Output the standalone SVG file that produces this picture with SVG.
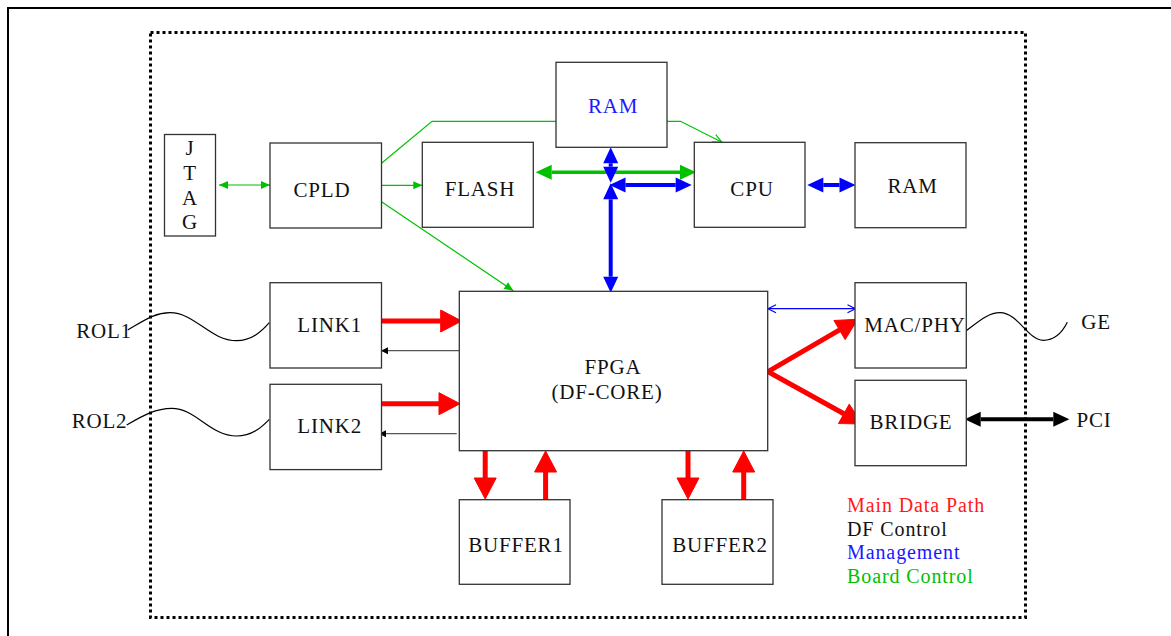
<svg xmlns="http://www.w3.org/2000/svg" width="1171" height="636" viewBox="0 0 1171 636">
<style>
.box{fill:#fff;stroke:#333;stroke-width:1.3}
.t{font-family:"Liberation Serif","Times New Roman",serif;font-size:21px;letter-spacing:0.8px;fill:#111;text-anchor:middle}
.lg{font-family:"Liberation Serif","Times New Roman",serif;font-size:20px;letter-spacing:0.9px}
.red{stroke:#ff0000;stroke-width:5;fill:none}
.gt{stroke:#00c000;stroke-width:3.5;fill:none}
.bt{stroke:#0000ff;stroke-width:4;fill:none}
.kt{stroke:#000;stroke-width:4;fill:none}
.g1{stroke:#00c000;stroke-width:1.2;fill:none}
.b1{stroke:#0000ff;stroke-width:1.2;fill:none}
.k1{stroke:#555;stroke-width:1.3;fill:none}
.wave{stroke:#000;stroke-width:1.2;fill:none}
</style>
<defs>
<marker id="hr" markerUnits="userSpaceOnUse" markerWidth="21" markerHeight="22" refX="0" refY="11" orient="auto-start-reverse" overflow="visible"><path d="M0,0 L21,11 L0,22 z" fill="#ff0000" stroke="#ff0000" stroke-width="1" stroke-linejoin="round"/></marker>
<marker id="hg" markerUnits="userSpaceOnUse" markerWidth="16" markerHeight="15" refX="0" refY="7.5" orient="auto-start-reverse" overflow="visible"><path d="M0,0 L16,7.5 L0,15 z" fill="#00c000"/></marker>
<marker id="hb" markerUnits="userSpaceOnUse" markerWidth="16" markerHeight="15" refX="0" refY="7.5" orient="auto-start-reverse" overflow="visible"><path d="M0,0 L16,7.5 L0,15 z" fill="#0000ff"/></marker>
<marker id="hk" markerUnits="userSpaceOnUse" markerWidth="16" markerHeight="15" refX="0" refY="7.5" orient="auto-start-reverse" overflow="visible"><path d="M0,0 L16,7.5 L0,15 z" fill="#000"/></marker>
<marker id="sg" markerUnits="userSpaceOnUse" markerWidth="9" markerHeight="8" refX="9" refY="4" orient="auto-start-reverse" overflow="visible"><path d="M0,0 L9,4 L0,8 z" fill="#00c000"/></marker>
<marker id="og" markerUnits="userSpaceOnUse" markerWidth="9" markerHeight="8" refX="9" refY="4" orient="auto" overflow="visible"><path d="M0,0 L9,4 L0,8" fill="none" stroke="#00c000" stroke-width="1.2"/></marker>
<marker id="ob" markerUnits="userSpaceOnUse" markerWidth="8" markerHeight="8" refX="8" refY="4" orient="auto-start-reverse" overflow="visible"><path d="M0,0 L8,4 L0,8" fill="none" stroke="#0000ff" stroke-width="1.2"/></marker>
<marker id="sk" markerUnits="userSpaceOnUse" markerWidth="7" markerHeight="7" refX="7" refY="3.5" orient="auto" overflow="visible"><path d="M0,0 L7,3.5 L0,7 z" fill="#000"/></marker>
</defs>
<rect x="0" y="0" width="1171" height="636" fill="#fff"/>
<rect x="8" y="8" width="1175" height="650" fill="none" stroke="#000" stroke-width="2"/>
<rect x="150.5" y="32.5" width="875" height="585" fill="none" stroke="#000" stroke-width="3" stroke-dasharray="3 3"/>

<g id="connectors">
<path class="g1" d="M381.5,163.3 L432,121.3 L556,121.3"/>
<path class="g1" d="M667,121.3 L680.5,121.3 L722,142.3" marker-end="url(#og)"/>
<line class="g1" x1="219" y1="185" x2="270" y2="185" marker-start="url(#sg)" marker-end="url(#sg)"/>
<line class="g1" x1="381.5" y1="185.3" x2="422.3" y2="185.3" marker-end="url(#sg)"/>
<line class="g1" x1="381.5" y1="201.7" x2="513.3" y2="290.7" marker-end="url(#sg)"/>
<line class="gt" x1="551.7" y1="172.3" x2="680" y2="172.3" marker-start="url(#hg)" marker-end="url(#hg)"/>
<line class="bt" x1="610.7" y1="163.3" x2="610.7" y2="166.7" marker-start="url(#hb)" marker-end="url(#hb)"/>
<line class="bt" x1="610.7" y1="199.3" x2="610.7" y2="276.7" marker-start="url(#hb)" marker-end="url(#hb)"/>
<line class="bt" x1="625.5" y1="185" x2="675.7" y2="185" marker-start="url(#hb)" marker-end="url(#hb)"/>
<line class="bt" x1="823.3" y1="185" x2="839.5" y2="185" marker-start="url(#hb)" marker-end="url(#hb)"/>
<path class="wave" d="M127.7,330 C145,320 155,312.7 170,312.7 C195,312.7 210,340.7 236.7,340.7 C252,340.7 262,331 269.3,322.7"/>
<path class="wave" d="M126.7,425 C144,415 156,408.3 171.7,408.3 C196,408.3 210,436 236.7,436 C252,436 262,427 269.3,419.3"/>
<path class="wave" d="M966.3,330.7 C978,322 988,312.7 1000,312.7 C1018,312.7 1028,340.3 1043.3,340.3 C1055,340.3 1063,331 1067.3,322.3"/>
<line class="red" x1="379.3" y1="321" x2="440.7" y2="321" marker-end="url(#hr)"/>
<line class="red" x1="376.7" y1="403.7" x2="439" y2="403.7" marker-end="url(#hr)"/>
<line class="k1" x1="459" y1="350.7" x2="381" y2="350.7" marker-end="url(#sk)"/>
<line class="k1" x1="456.7" y1="433.7" x2="379" y2="433.7" marker-end="url(#sk)"/>
<line class="red" x1="485.2" y1="451" x2="485.2" y2="478" marker-end="url(#hr)"/>
<line class="red" x1="545.6" y1="502.7" x2="545.6" y2="472" marker-end="url(#hr)"/>
<line class="red" x1="688" y1="451" x2="688" y2="478" marker-end="url(#hr)"/>
<line class="red" x1="743.7" y1="502.7" x2="743.7" y2="472" marker-end="url(#hr)"/>
<path class="red" stroke-linejoin="miter" d="M839.6,329.9 L768,371.7 L843.9,413.8" marker-start="url(#hr)" marker-end="url(#hr)"/>
<line class="b1" x1="768" y1="308.7" x2="855.5" y2="308.7" marker-start="url(#ob)" marker-end="url(#ob)"/>
<line class="kt" x1="980.7" y1="419.3" x2="1053.3" y2="419.3" marker-start="url(#hk)" marker-end="url(#hk)"/>
</g>

<g id="jtag"><rect class="box" x="164.5" y="134.5" width="51" height="101.5"/>
<text class="t" x="190" y="155">J</text><text class="t" x="190" y="179.5">T</text><text class="t" x="190" y="205">A</text><text class="t" x="190" y="229">G</text></g>
<g id="cpld"><rect class="box" x="270" y="143" width="111.5" height="85"/><text class="t" x="322" y="196.7">CPLD</text></g>
<g id="ram-top"><rect class="box" x="556" y="62.3" width="111" height="85"/><text class="t" x="613" y="112.7" style="fill:#1a1aff">RAM</text></g>
<g id="flash"><rect class="box" x="422.3" y="142.3" width="111" height="85"/><text class="t" x="480" y="195.7">FLASH</text></g>
<g id="cpu"><rect class="box" x="694.3" y="142.3" width="110.7" height="85"/><text class="t" x="752" y="195.7">CPU</text></g>
<g id="ram-right"><rect class="box" x="855" y="142.7" width="111" height="85"/><text class="t" x="912.5" y="192.7">RAM</text></g>
<g id="link1"><rect class="box" x="270" y="282.7" width="111.5" height="85.3"/><text class="t" x="329.7" y="332.3">LINK1</text></g>
<g id="link2"><rect class="box" x="270" y="384.3" width="111.5" height="85.3"/><text class="t" x="329.7" y="432.7">LINK2</text></g>
<g id="fpga"><rect class="box" x="459.3" y="291.3" width="308.4" height="159.4"/><text class="t" x="613" y="373.5">FPGA</text><text class="t" x="607" y="398.5">(DF-CORE)</text></g>
<g id="macphy"><rect class="box" x="855" y="282.7" width="111.3" height="85.3"/><text class="t" x="915" y="332">MAC/PHY</text></g>
<g id="bridge"><rect class="box" x="855" y="380.3" width="111.3" height="85.4"/><text class="t" x="911" y="428.7">BRIDGE</text></g>
<g id="buffer1"><rect class="box" x="459.3" y="499.7" width="110.7" height="84.6"/><text class="t" x="516" y="551.7">BUFFER1</text></g>
<g id="buffer2"><rect class="box" x="662" y="499.7" width="111" height="84.6"/><text class="t" x="720" y="551.7">BUFFER2</text></g>
<g id="labels">
<text class="t" x="104" y="338">ROL1</text>
<text class="t" x="99.5" y="428.3">ROL2</text>
<text class="t" x="1096" y="329.3">GE</text>
<text class="t" x="1094" y="426.7">PCI</text>
</g>
<g id="legend">
<text class="lg" x="847" y="511.7" fill="#ff1a1a">Main Data Path</text>
<text class="lg" x="847" y="535.7" fill="#111">DF Control</text>
<text class="lg" x="847" y="559.3" fill="#1a1aff">Management</text>
<text class="lg" x="847" y="583.3" fill="#00c000">Board Control</text>
</g>
</svg>
